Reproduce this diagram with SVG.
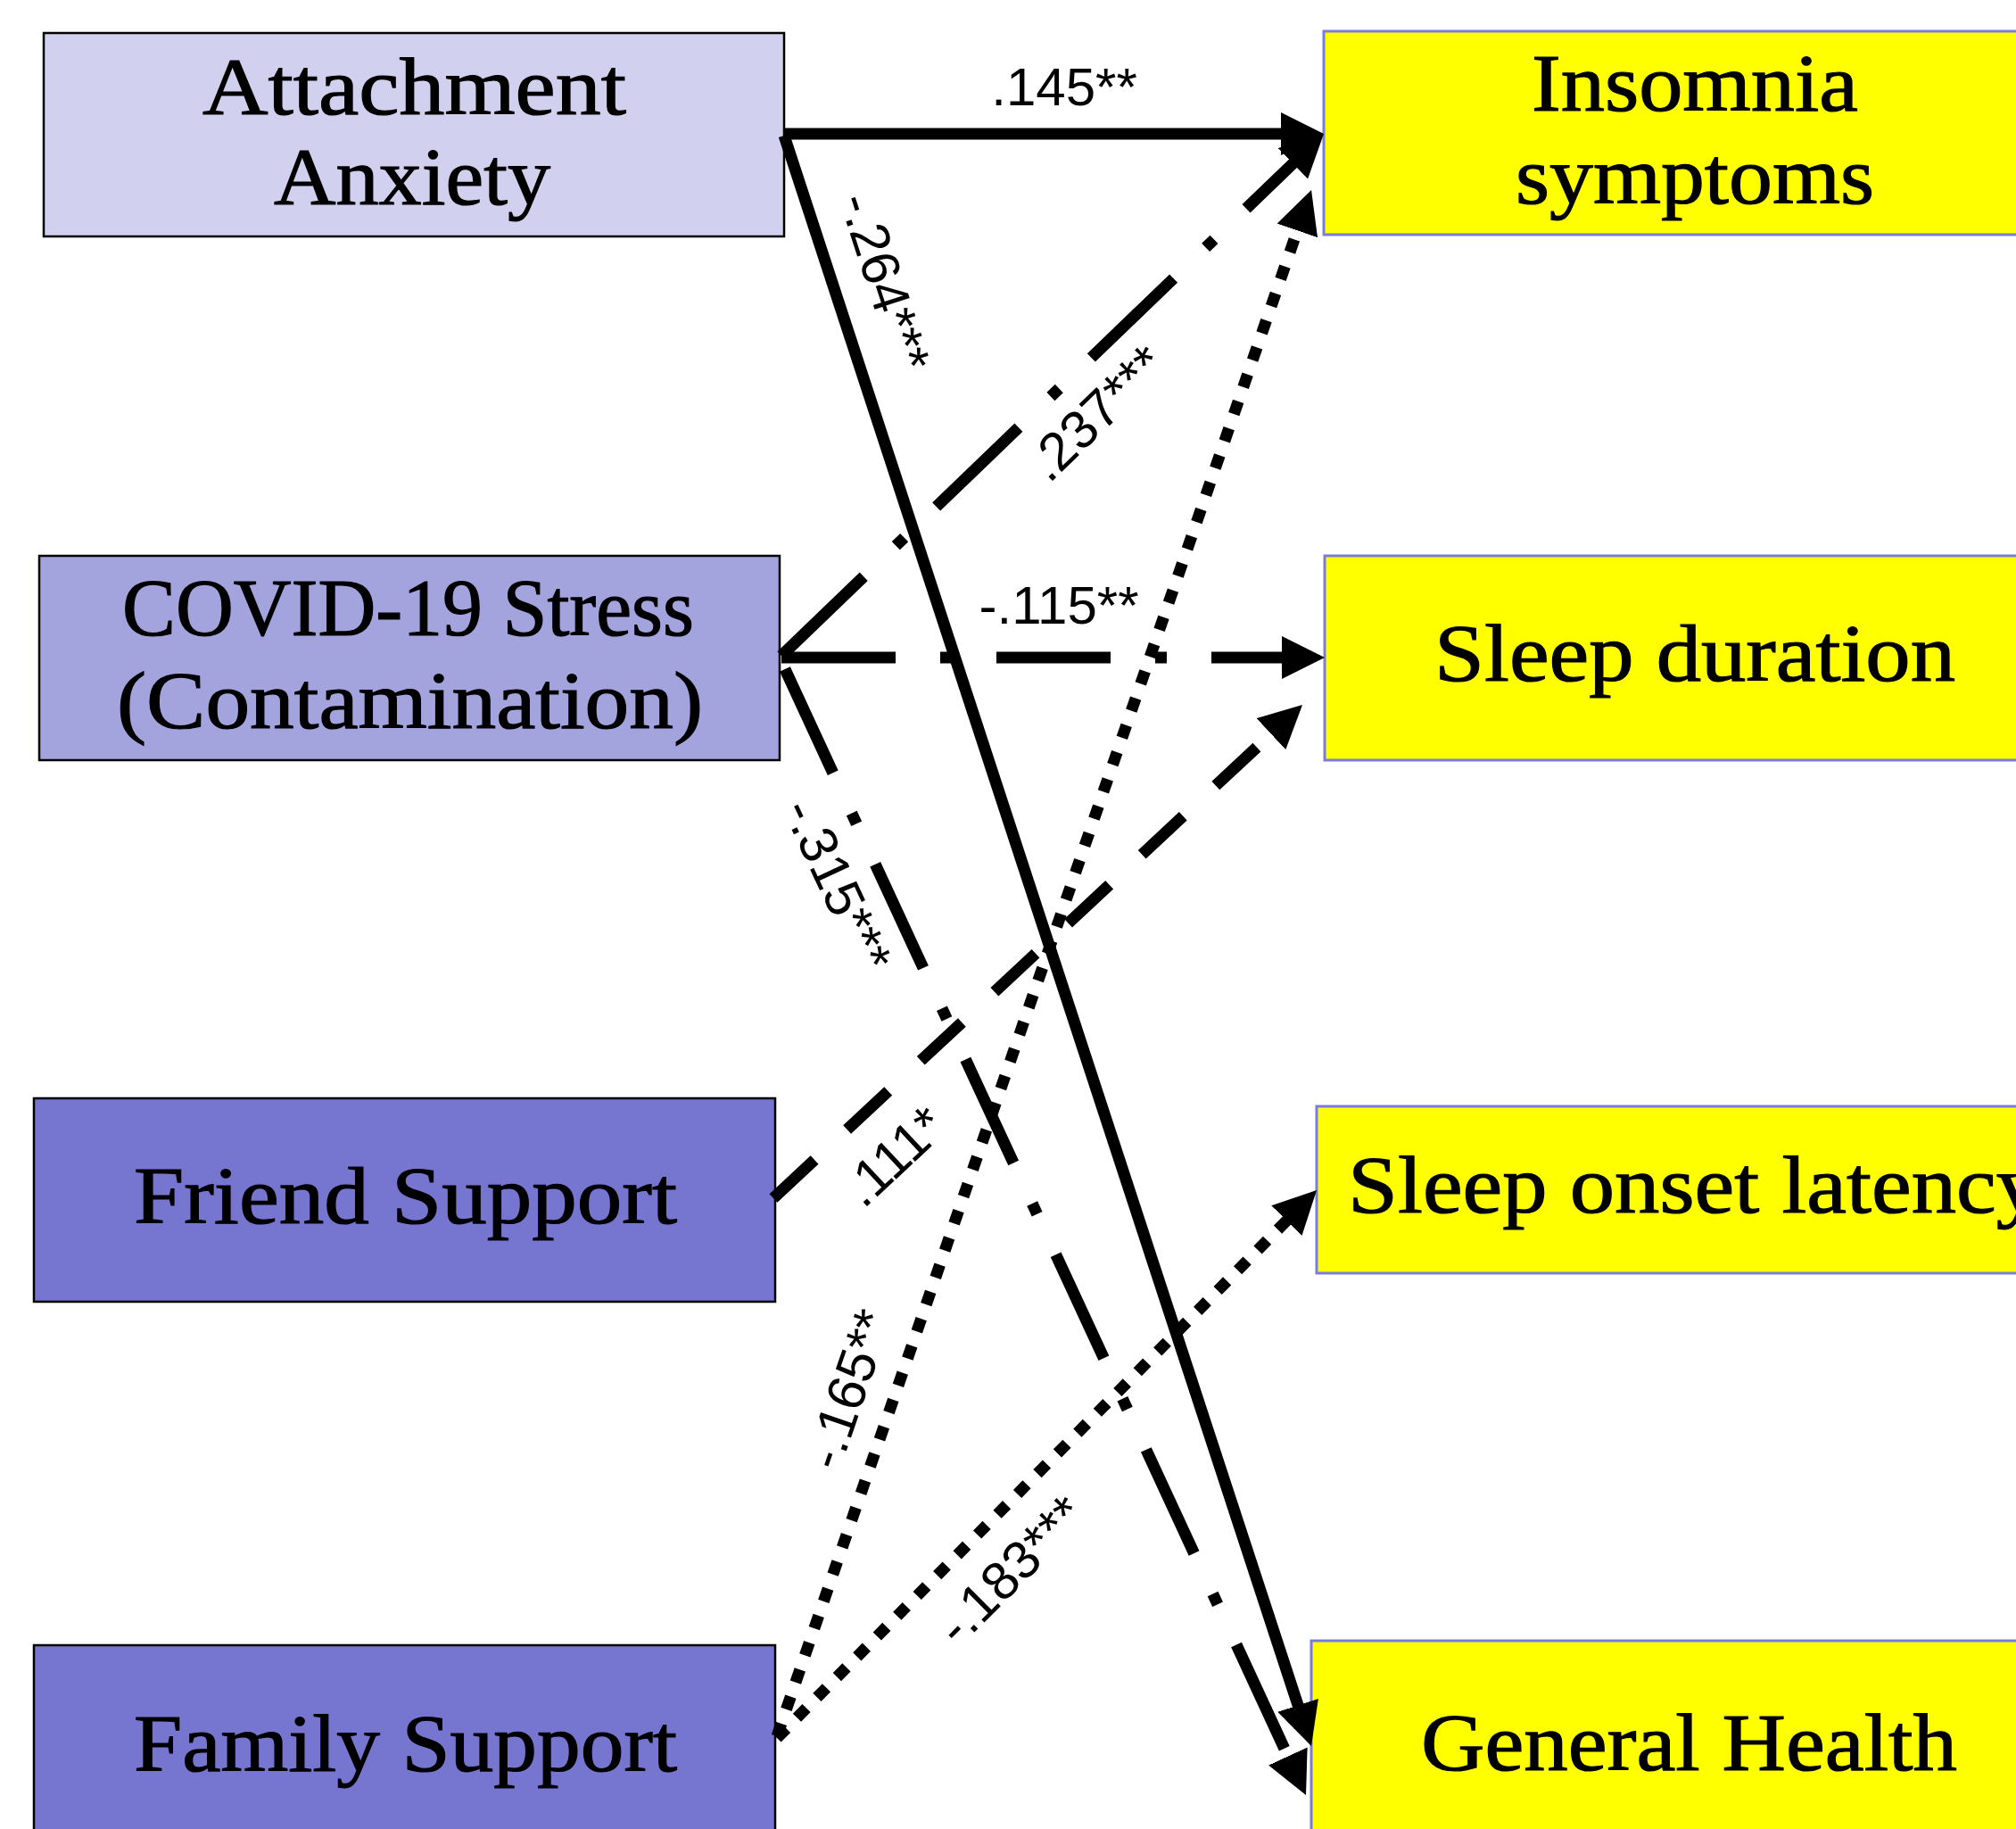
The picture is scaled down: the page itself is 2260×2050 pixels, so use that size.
<svg xmlns="http://www.w3.org/2000/svg" width="2260" height="2050" viewBox="0 0 2260 2050">
<style>
.box{stroke:#000;stroke-width:2.5}
.out{fill:#FFFF00;stroke:#7B7BDB;stroke-width:3}
.nt{font-family:"Liberation Serif","Times New Roman",serif;font-size:92px;fill:#000;stroke:#000;stroke-width:1.2}
.lb{font-family:"Liberation Sans",Arial,sans-serif;font-size:60px;fill:#000}
.c{fill:none;stroke:#000;stroke-width:13;marker-end:url(#ah)}
.dd{stroke-dasharray:128 50 13 50}
.ds{stroke-dasharray:63 50}
.dt{stroke-dasharray:15 17}
</style>
<defs>
<marker id="ah" markerUnits="userSpaceOnUse" markerWidth="50" markerHeight="50" refX="28" refY="24" orient="auto">
<path d="M0,0 L48,24 L0,48 z" fill="#000"/>
</marker>
</defs>
<rect width="2260" height="2050" fill="#fff"/>
<g id="attachment-anxiety">
<rect class="box" x="49" y="37" width="830" height="228" fill="#D1D1EF"/>
<text class="nt" x="227" y="128" textLength="475" lengthAdjust="spacingAndGlyphs">Attachment</text>
<text class="nt" x="307" y="229" textLength="310" lengthAdjust="spacingAndGlyphs">Anxiety</text>
</g>
<g id="covid-stress">
<rect class="box" x="44" y="623" width="830" height="229" fill="#A3A3DE"/>
<text class="nt" x="137" y="712" textLength="641" lengthAdjust="spacingAndGlyphs">COVID-19 Stress</text>
<text class="nt" x="131" y="816" textLength="657" lengthAdjust="spacingAndGlyphs">(Contamination)</text>
</g>
<g id="friend-support">
<rect class="box" x="38" y="1231" width="831" height="228" fill="#7676D0"/>
<text class="nt" x="150" y="1371" textLength="609" lengthAdjust="spacingAndGlyphs">Friend Support</text>
</g>
<g id="family-support">
<rect class="box" x="38" y="1844" width="831" height="230" fill="#7676D0"/>
<text class="nt" x="150" y="1985" textLength="609" lengthAdjust="spacingAndGlyphs">Family Support</text>
</g>
<g id="insomnia">
<rect class="out" x="1484" y="35" width="820" height="228"/>
<text class="nt" x="1717" y="124" textLength="366" lengthAdjust="spacingAndGlyphs">Insomnia</text>
<text class="nt" x="1699" y="228" textLength="402" lengthAdjust="spacingAndGlyphs">symptoms</text>
</g>
<g id="sleep-duration">
<rect class="out" x="1485" y="623" width="820" height="229"/>
<text class="nt" x="1608" y="763" textLength="584" lengthAdjust="spacingAndGlyphs">Sleep duration</text>
</g>
<g id="sleep-onset-latency">
<rect class="out" x="1476" y="1240" width="830" height="187"/>
<text class="nt" x="1511" y="1359" textLength="777" lengthAdjust="spacingAndGlyphs">Sleep onset latency</text>
</g>
<g id="general-health">
<rect class="out" x="1470" y="1839" width="830" height="230"/>
<text class="nt" x="1593" y="1984" textLength="601" lengthAdjust="spacingAndGlyphs">General Health</text>
</g>
<g id="connectors">
<path class="c" d="M879,150 L1464,150"/>
<path class="c" d="M879,152 L1463.8,1938"/>
<path class="c dd" d="M876,735 L1469.6,163.9"/>
<path class="c dd" d="M876,737 L1465,737"/>
<path class="c dd" d="M880,750 L1455.6,1993.9"/>
<path class="c ds" d="M867,1343 L1445.4,803.6"/>
<path class="c dt" d="M871,1946 L1463.5,231.9"/>
<path class="c dt" d="M871,1948 L1462,1348.2"/>
</g>
<g id="labels">
<text class="lb" x="1193" y="118" text-anchor="middle">.145**</text>
<text class="lb" x="1187" y="699" text-anchor="middle">-.115**</text>
<text class="lb" text-anchor="middle" dominant-baseline="central" transform="translate(992,316) rotate(72)">-.264***</text>
<text class="lb" text-anchor="middle" dominant-baseline="central" transform="translate(1229,463) rotate(-44)">.237***</text>
<text class="lb" text-anchor="middle" dominant-baseline="central" transform="translate(939,992) rotate(65)">-.315***</text>
<text class="lb" text-anchor="middle" dominant-baseline="central" transform="translate(1002,1296) rotate(-43)">.111*</text>
<text class="lb" text-anchor="middle" dominant-baseline="central" transform="translate(951,1557) rotate(-71)">-.165**</text>
<text class="lb" text-anchor="middle" dominant-baseline="central" transform="translate(1133,1760) rotate(-45)">-.183***</text>
</g>
</svg>
